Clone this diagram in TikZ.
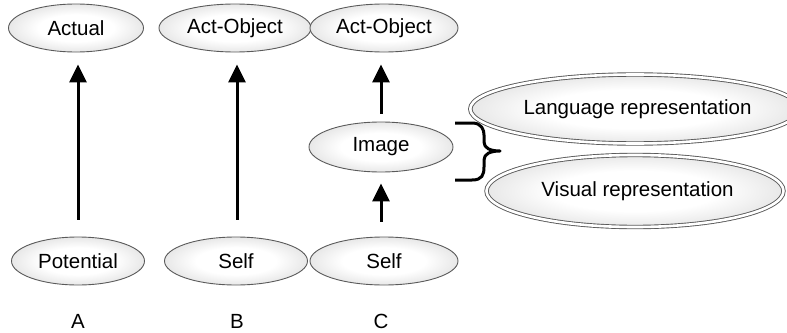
\documentclass[tikz,border=0pt]{standalone}
\usepackage{fontspec}
\setmainfont{Liberation Sans}
\usetikzlibrary{shapes.geometric,arrows.meta}
\pgfdeclareradialshading{nodeshade}{\pgfpoint{0bp}{0bp}}{color(0bp)=(white); color(14bp)=(white); color(50bp)=(black!30); color(100bp)=(black!30)}
\definecolor{edgegray}{HTML}{5A5A5A}
\tikzset{
  oval/.style={ellipse, draw=edgegray, line width=0.9pt, shading=nodeshade, inner sep=0pt,
    font=\fontsize{20.5}{24}\selectfont},
  dbloval/.style={oval, double=white, double distance=2.6pt},
  uparrow/.style={line width=3pt, -{Triangle[width=17pt,length=18pt]}},
  caption/.style={font=\fontsize{20.5}{24}\selectfont},
  brace/.style={line width=3pt, line join=round}
}
\begin{document}
\begin{tikzpicture}[x=1pt,y=-1pt]
\useasboundingbox (0,0) rectangle (787,332);
% top row
\node[oval, minimum width=135pt, minimum height=48pt] (actual) at (76,28) {Actual};
\node[oval, minimum width=152pt, minimum height=48pt] (objB) at (235,28) {Act-Object};
\node[oval, minimum width=148pt, minimum height=48pt] (objC) at (384,28) {Act-Object};
% middle
\node[oval, minimum width=144pt, minimum height=50pt] (image) at (381,147) {Image};
\node[dbloval, minimum width=297pt, minimum height=69pt] (lang) at (635,109) {\hspace{5pt}Language representation};
\node[dbloval, minimum width=297pt, minimum height=72pt] (vis) at (635,191) {\hspace{5pt}Visual representation};
% bottom row
\node[oval, minimum width=133pt, minimum height=48pt] (pot) at (78,261) {Potential};
\node[oval, minimum width=143pt, minimum height=48pt] (selfB) at (236,261) {Self};
\node[oval, minimum width=148pt, minimum height=48pt] (selfC) at (384,261) {Self};
% captions
\node[caption] (capA) at (78,321) {A};
\node[caption] (capB) at (237,321) {B};
\node[caption] (capC) at (381,321) {C};
% arrows
\draw[uparrow, shorten <=17pt, shorten >=12pt] (pot.north -| capA) -- (actual.south -| capA);
\draw[uparrow, shorten <=17pt, shorten >=12pt] (selfB.north -| capB) -- (objB.south -| capB);
\draw[uparrow, shorten <=8pt, shorten >=12pt] (image.north -| capC) -- (objC.south -| capC);
\draw[uparrow, shorten <=15pt, shorten >=11pt] (selfC.north -| capC) -- (image.south -| capC);
% brace grouping the two representations
\coordinate (btop) at (455,123);
\coordinate (bbot) at (455,180);
\coordinate (btip) at (500,151);
\draw[brace] (btop) -- ++(17,0) .. controls +(10,0) and +(0,-5) .. (484,135) -- (484,142)
  .. controls +(0,6) and +(-10,0) .. (btip)
  .. controls +(-10,0) and +(0,-6) .. (484,160) -- (484,167)
  .. controls +(0,8) and +(10,0) .. (472,180) -- (bbot);
\end{tikzpicture}
\end{document}
